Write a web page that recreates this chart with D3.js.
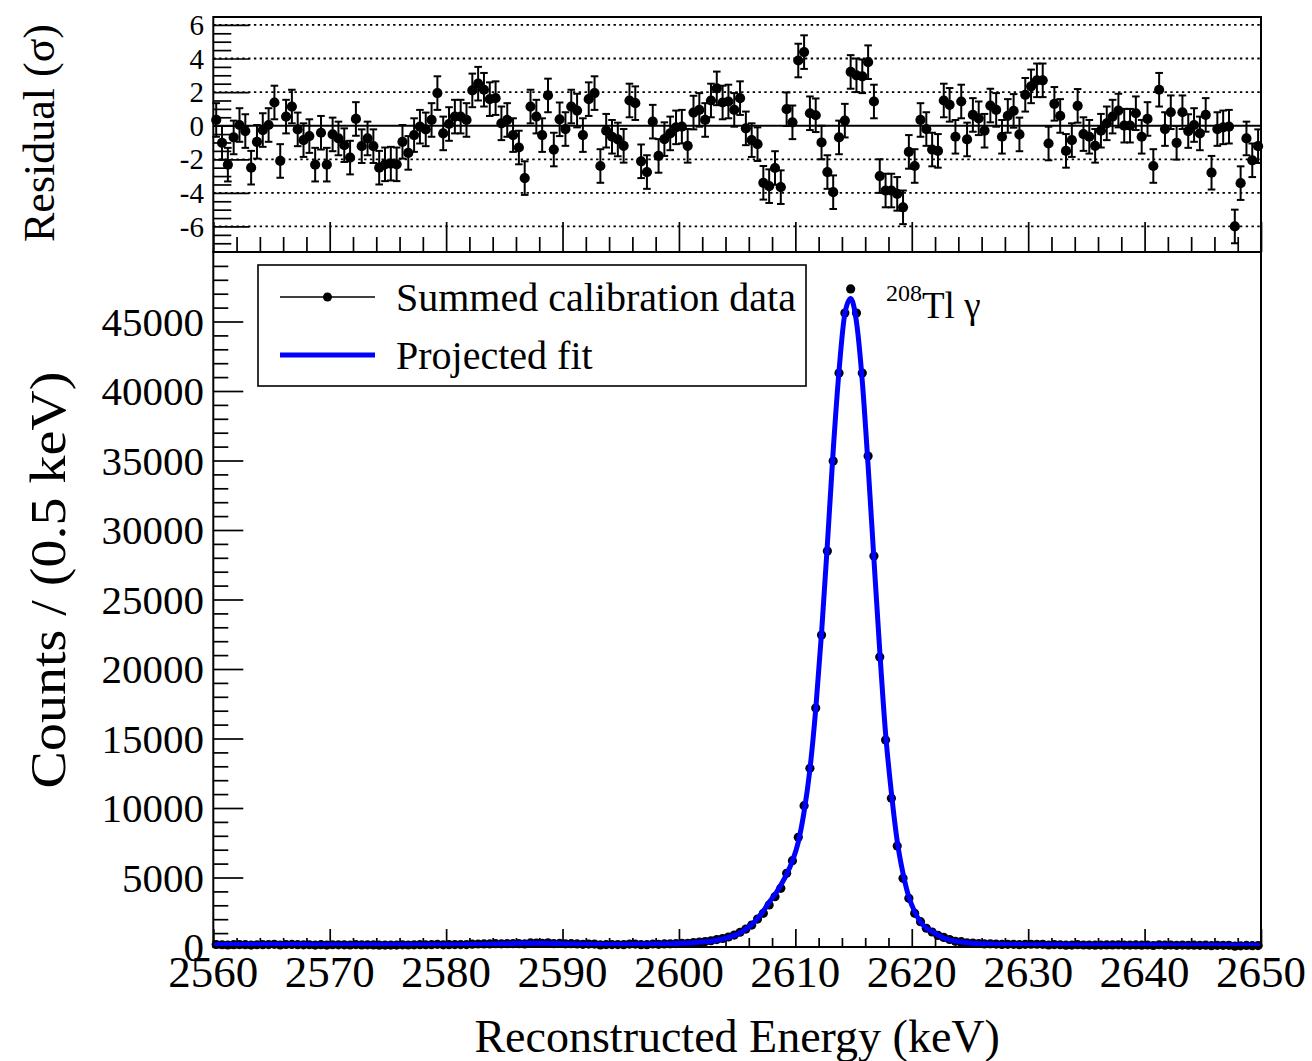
<!DOCTYPE html>
<html><head><meta charset="utf-8">
<script src="https://cdn.jsdelivr.net/npm/d3@7"></script>
<style>
html,body{margin:0;padding:0;background:#fff;}
svg{display:block;font-family:"Liberation Serif","Times New Roman",serif;}
</style></head><body>
<svg id="chart" width="1312" height="1061"></svg>
<script>
// Histogram binning of the energy axis (keV)
const binLow = 2560, binWidth = 0.5;
const energyTicks = [2560, 2570, 2580, 2590, 2600, 2610, 2620, 2630, 2640, 2650];
const countTicks = [0, 5000, 10000, 15000, 20000, 25000, 30000, 35000, 40000, 45000];
const residualTicks = [-6, -4, -2, 0, 2, 4, 6];

// Summed calibration data, counts per 0.5 keV bin
const counts = [
  180,162,144,166,176,170,141,161,170,174,
  191,144,179,187,168,160,163,140,165,140,
  162,159,154,143,173,152,157,151,135,136,
  137,136,154,144,158,164,162,169,190,159,
  167,174,176,176,204,216,220,222,236,227,
  243,241,240,219,295,287,267,300,237,254,
  232,239,223,192,214,212,149,176,172,172,
  170,211,214,170,167,217,195,218,232,248,
  265,270,320,359,390,451,531,611,721,860,
  1062,1289,1580,2010,2420,3020,3620,4220,5300,6210,
  7890,10170,12860,17190,22440,28490,34960,41290,45610,47340,
  45610,41290,35320,28130,20860,14890,10700,7270,4940,3500,
  2420,1820,1350,1080,830,690,540,410,380,290,
  280,252,222,229,213,182,192,190,167,194,
  197,199,196,145,174,162,134,141,165,143,
  140,132,142,147,151,154,142,141,149,131,
  143,109,161,133,143,121,141,127,130,124,
  135,95,124,124,124,57,84,113,97,106
];

// Projected fit evaluated at the bin centres
const fitCounts = [
  176,176,175,175,175,174,174,174,173,173,
  173,172,172,172,171,171,171,170,170,170,
  169,169,169,168,168,168,167,167,167,166,
  166,166,166,165,165,165,165,165,165,165,
  166,167,169,172,176,182,190,200,212,225,
  238,250,261,270,276,278,276,270,260,248,
  235,222,210,200,192,186,181,180,181,183,
  186,190,195,200,206,213,221,230,239,250,
  266,290,306,342,383,420,482,578,683,833,
  1010,1295,1615,2060,2590,3220,3775,4460,5230,6195,
  7550,9730,12775,17110,22590,28960,35700,41430,45550,46650,
  44970,40700,34610,27890,21295,15365,11100,7620,5285,3590,
  2540,1805,1357,1127,873,651,512,423,353,304,
  270,245,226,211,200,191,184,178,174,170,
  167,164,161,159,157,155,153,152,150,149,
  148,147,146,145,144,143,142,141,140,139,
  138,137,136,135,134,133,132,131,130,129,
  128,127,126,125,124,123,122,121,120,119
];

// Pulls (data - fit) / sigma for each bin
const residuals = [
  0.34,-1.02,-2.32,-0.7,0.04,-0.32,-2.5,-0.96,-0.26,0.04,
  1.38,-2.1,0.54,1.14,-0.22,-0.86,-0.62,-2.32,-0.42,-2.32,
  -0.52,-0.76,-1.16,-1.9,0.4,-1.22,-0.76,-1.22,-2.5,-2.3,
  -2.26,-2.3,-0.96,-1.62,-0.56,-0.06,-0.22,0.34,1.94,-0.46,
  0.1,0.54,0.54,0.34,2.1,2.5,2.14,1.58,1.64,0.14,
  0.34,-0.56,-1.3,-3.12,1.14,0.54,-0.56,1.8,-1.42,0.38,
  -0.2,1.14,0.9,-0.56,1.58,1.94,-2.4,-0.3,-0.66,-0.82,
  -1.2,1.5,1.34,-2.12,-2.76,0.24,-1.8,-0.8,-0.46,-0.1,
  -0.06,-1.2,0.78,0.94,0.34,1.5,2.22,1.38,1.44,0.94,
  1.64,-0.16,-0.86,-1.1,-3.4,-3.6,-2.52,-3.66,0.98,0.2,
  3.88,4.38,0.74,0.62,-1.0,-2.76,-3.96,-0.7,0.3,3.2,
  3.0,2.94,3.78,1.44,-3.0,-3.86,-3.86,-4.06,-4.86,-1.56,
  -2.4,0.34,-0.2,-1.42,-1.5,1.5,1.24,-0.66,1.44,-0.82,
  0.64,0.44,-0.3,1.2,0.94,-0.66,0.58,0.88,-0.52,1.84,
  2.34,2.7,2.7,-1.06,1.3,0.58,-1.5,-0.86,1.18,-0.5,
  -0.66,-1.2,-0.3,0.14,0.54,0.9,0,0,0.74,-0.66,
  0.4,-2.4,2.14,-0.2,0.8,-1.02,0.8,-0.32,0.04,-0.46,
  0.64,-2.8,-0.2,-0.1,-0.06,-6.0,-3.42,-0.76,-2.06,-1.22
];
const residualError = 1;

const legendLabels = ["Summed calibration data", "Projected fit"];
const peakLabel = {iso: "208", rest: "Tl \u03b3"};

// ---- geometry ----
const L = 213.3, R = 1261, T = 17, MID = 252, B = 947;
const svg = d3.select("#chart");
const font = '"Liberation Serif","Times New Roman",serif';

const x = d3.scaleLinear().domain([2560, 2650]).range([L, R]);
const yRes = d3.scaleLinear().domain([-7.52, 6.47]).range([MID, T]);
const yCnt = d3.scaleLinear().domain([0, 50000]).range([B, MID]);

const binCenter = i => binLow + (i + 0.5) * binWidth;
const data = counts.map((c, i) => ({e: binCenter(i), c, f: fitCounts[i], r: residuals[i]}));

function minorTicks(lo, hi, step, skip) {
  const out = [];
  for (let v = lo; v <= hi + 1e-9; v += step) {
    const rv = Math.round(v * 1000) / 1000;
    if (!skip(rv)) out.push(rv);
  }
  return out;
}
function styleAxis(g) {
  g.select(".domain").remove();
  g.selectAll("line").attr("stroke", "#000").attr("stroke-width", 1.7);
  g.selectAll("text").remove();
}

// ================= residual pad =================
const resPad = svg.append("g");
// dotted reference lines
resPad.selectAll("line.grid").data(residualTicks.filter(v => v !== 0)).join("line").attr("class", "grid")
  .attr("x1", L).attr("x2", R)
  .attr("y1", d => yRes(d)).attr("y2", d => yRes(d))
  .attr("stroke", "#000").attr("stroke-width", 1.8).attr("stroke-dasharray", "2.4,3.4");
resPad.append("line").attr("x1", L).attr("x2", R).attr("y1", yRes(0)).attr("y2", yRes(0))
  .attr("stroke", "#000").attr("stroke-width", 2);

// axis ticks
resPad.append("g").attr("transform", `translate(${L},0)`)
  .call(d3.axisLeft(yRes).tickValues(residualTicks).tickSize(-36).tickSizeOuter(0)).call(styleAxis);
resPad.append("g").attr("transform", `translate(${L},0)`)
  .call(d3.axisLeft(yRes).tickValues(minorTicks(-7.5, 6.5, 0.5, v => Number.isInteger(v) && v % 2 === 0)).tickSize(-18).tickSizeOuter(0)).call(styleAxis);
resPad.append("g").attr("transform", `translate(0,${MID})`)
  .call(d3.axisBottom(x).tickValues(energyTicks).tickSize(-30).tickSizeOuter(0)).call(styleAxis);
resPad.append("g").attr("transform", `translate(0,${MID})`)
  .call(d3.axisBottom(x).tickValues(minorTicks(2560, 2650, 2, v => v % 10 === 0)).tickSize(-15).tickSizeOuter(0)).call(styleAxis);

// error bars
const eb = resPad.append("g").attr("stroke", "#000").attr("stroke-width", 2);
eb.selectAll("line.v").data(data).join("line").attr("class", "v")
  .attr("x1", d => x(d.e)).attr("x2", d => x(d.e))
  .attr("y1", d => yRes(d.r - residualError)).attr("y2", d => yRes(d.r + residualError));
eb.selectAll("line.t").data(data).join("line").attr("class", "t")
  .attr("x1", d => x(d.e) - 3.8).attr("x2", d => x(d.e) + 3.8)
  .attr("y1", d => yRes(d.r + residualError)).attr("y2", d => yRes(d.r + residualError));
eb.selectAll("line.b").data(data).join("line").attr("class", "b")
  .attr("x1", d => x(d.e) - 3.8).attr("x2", d => x(d.e) + 3.8)
  .attr("y1", d => yRes(d.r - residualError)).attr("y2", d => yRes(d.r - residualError));
resPad.selectAll("circle.pull").data(data).join("circle").attr("class", "pull")
  .attr("cx", d => x(d.e)).attr("cy", d => yRes(d.r)).attr("r", 5.1).attr("fill", "#000");

resPad.append("rect").attr("x", L).attr("y", T).attr("width", R - L).attr("height", MID - T)
  .attr("fill", "none").attr("stroke", "#000").attr("stroke-width", 2);

// residual tick labels and title
resPad.selectAll("text.rl").data(residualTicks).join("text").attr("class", "rl")
  .attr("x", 204).attr("y", d => yRes(d)).attr("dy", "0.35em")
  .attr("text-anchor", "end").attr("font-size", 29).attr("font-family", font)
  .text(d => d);
resPad.append("text").attr("transform", `translate(54,133) rotate(-90)`)
  .attr("text-anchor", "middle").attr("font-size", 44).attr("font-family", font)
  .text("Residual (\u03c3)");

// ================= spectrum pad =================
const specPad = svg.append("g");
specPad.append("g").attr("transform", `translate(${L},0)`)
  .call(d3.axisLeft(yCnt).tickValues(countTicks).tickSize(-30).tickSizeOuter(0)).call(styleAxis);
specPad.append("g").attr("transform", `translate(${L},0)`)
  .call(d3.axisLeft(yCnt).tickValues(minorTicks(0, 50000, 1000, v => v % 5000 === 0)).tickSize(-15).tickSizeOuter(0)).call(styleAxis);
specPad.append("g").attr("transform", `translate(0,${B})`)
  .call(d3.axisBottom(x).tickValues(energyTicks).tickSize(-18).tickSizeOuter(0)).call(styleAxis);
specPad.append("g").attr("transform", `translate(0,${B})`)
  .call(d3.axisBottom(x).tickValues(minorTicks(2560, 2650, 2, v => v % 10 === 0)).tickSize(-9).tickSizeOuter(0)).call(styleAxis);

specPad.selectAll("circle.cnt").data(data).join("circle").attr("class", "cnt")
  .attr("cx", d => x(d.e)).attr("cy", d => yCnt(d.c)).attr("r", 4.6).attr("fill", "#000");

const fitLine = d3.line().x(d => x(d.e)).y(d => yCnt(d.f)).curve(d3.curveMonotoneX);
specPad.append("path").datum(data).attr("d", fitLine)
  .attr("fill", "none").attr("stroke", "#0000ff").attr("stroke-width", 5)
  .attr("stroke-linejoin", "round").attr("stroke-linecap", "round");

specPad.append("rect").attr("x", L).attr("y", MID).attr("width", R - L).attr("height", B - MID)
  .attr("fill", "none").attr("stroke", "#000").attr("stroke-width", 2);

specPad.selectAll("text.cl").data(countTicks).join("text").attr("class", "cl")
  .attr("x", 204).attr("y", d => yCnt(d)).attr("dy", "0.35em")
  .attr("text-anchor", "end").attr("font-size", 41).attr("font-family", font)
  .text(d => d);
specPad.selectAll("text.xl").data(energyTicks).join("text").attr("class", "xl")
  .attr("x", d => x(d)).attr("y", 987)
  .attr("text-anchor", "middle").attr("font-size", 45).attr("font-family", font)
  .text(d => d);
specPad.append("text").attr("x", (L + R) / 2).attr("y", 1052)
  .attr("text-anchor", "middle").attr("font-size", 46).attr("font-family", font)
  .text("Reconstructed Energy (keV)");
specPad.append("text").attr("transform", `translate(65,580) scale(0.92,1) rotate(-90)`)
  .attr("text-anchor", "middle").attr("font-size", 56).attr("font-family", font)
  .text("Counts / (0.5 keV)");

// peak annotation
const ann = specPad.append("text").attr("x", 886).attr("y", 318).attr("font-family", font);
ann.append("tspan").attr("font-size", 24).attr("dy", -17).text(peakLabel.iso);
ann.append("tspan").attr("font-size", 37).attr("dy", 17).text(peakLabel.rest);

// legend
const lg = specPad.append("g");
lg.append("rect").attr("x", 258).attr("y", 265).attr("width", 548).attr("height", 121)
  .attr("fill", "#fff").attr("stroke", "#000").attr("stroke-width", 1.6);
lg.append("line").attr("x1", 280).attr("x2", 375).attr("y1", 297).attr("y2", 297)
  .attr("stroke", "#000").attr("stroke-width", 1.6);
lg.append("circle").attr("cx", 327.5).attr("cy", 297).attr("r", 4.5).attr("fill", "#000");
lg.append("line").attr("x1", 280).attr("x2", 375).attr("y1", 355).attr("y2", 355)
  .attr("stroke", "#0000ff").attr("stroke-width", 5);
lg.selectAll("text.lt").data(legendLabels).join("text").attr("class", "lt")
  .attr("x", 396).attr("y", (d, i) => 311 + i * 58)
  .attr("font-size", 40).attr("font-family", font).text(d => d);
</script>
</body></html>
